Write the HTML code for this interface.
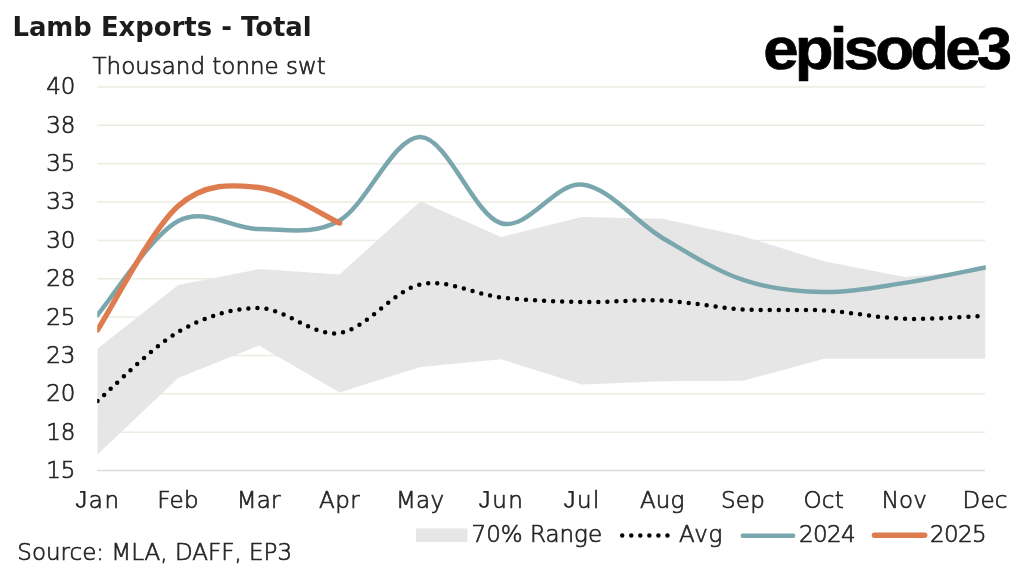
<!DOCTYPE html>
<html><head><meta charset="utf-8"><title>Lamb Exports - Total</title>
<style>
html,body{margin:0;padding:0;background:#fff;}
body{width:1024px;height:568px;overflow:hidden;}
svg{display:block;}
text{font-family:"DejaVu Sans","Liberation Sans",sans-serif;font-weight:200;fill:#262626;stroke:#262626;stroke-width:0.7px;font-size:23px;}
.J{font-family:"Liberation Sans",sans-serif;font-weight:normal;stroke:none;font-size:24px;}
.title{font-weight:bold;font-size:25.9px;fill:#1c1c1c;stroke:none;}
.logo{font-family:"Liberation Sans",sans-serif;font-weight:bold;font-size:60px;fill:#000;letter-spacing:-3.6px;stroke:#000;stroke-width:0.7px;}
</style></head><body>
<svg width="1024" height="568" viewBox="0 0 1024 568">
<rect width="1024" height="568" fill="#fff"/>
<g>
<line x1="97.2" x2="985" y1="87.00" y2="87.00" stroke="#ecece2" stroke-width="1.5"/>
<line x1="97.2" x2="985" y1="125.35" y2="125.35" stroke="#ecece2" stroke-width="1.5"/>
<line x1="97.2" x2="985" y1="163.70" y2="163.70" stroke="#ecece2" stroke-width="1.5"/>
<line x1="97.2" x2="985" y1="202.05" y2="202.05" stroke="#ecece2" stroke-width="1.5"/>
<line x1="97.2" x2="985" y1="240.40" y2="240.40" stroke="#ecece2" stroke-width="1.5"/>
<line x1="97.2" x2="985" y1="278.75" y2="278.75" stroke="#ecece2" stroke-width="1.5"/>
<line x1="97.2" x2="985" y1="317.10" y2="317.10" stroke="#ecece2" stroke-width="1.5"/>
<line x1="97.2" x2="985" y1="355.45" y2="355.45" stroke="#ecece2" stroke-width="1.5"/>
<line x1="97.2" x2="985" y1="393.80" y2="393.80" stroke="#ecece2" stroke-width="1.5"/>
<line x1="97.2" x2="985" y1="432.15" y2="432.15" stroke="#ecece2" stroke-width="1.5"/>
<line x1="97.2" x2="985" y1="470.50" y2="470.50" stroke="#dbdbdb" stroke-width="1.5"/>
</g>
<clipPath id="pc"><rect x="97.2" y="80" width="888.6" height="395"/></clipPath>
<g clip-path="url(#pc)">
<path d="M97.50 348.70 L178.21 285.04 L258.92 269.09 L339.63 274.45 L420.34 201.28 L501.05 237.03 L581.75 216.93 L662.46 218.77 L743.17 236.26 L823.88 261.26 L904.59 277.06 L985.30 270.01 L985.30 358.82 L904.59 358.82 L823.88 358.82 L743.17 380.76 L662.46 381.22 L581.75 384.44 L501.05 359.29 L420.34 366.95 L339.63 392.57 L258.92 345.48 L178.21 378.00 L97.50 454.55Z" fill="#e6e6e6"/>
<path d="M97.50 401.01 C110.95 389.50 151.31 347.47 178.21 331.98 C205.11 316.49 232.02 307.87 258.92 308.05 C285.82 308.23 312.72 336.99 339.63 333.05 C366.53 329.12 393.43 290.36 420.34 284.43 C447.24 278.49 474.14 294.52 501.05 297.46 C527.95 300.40 554.85 301.56 581.75 302.07 C608.66 302.58 635.56 299.31 662.46 300.53 C689.37 301.76 716.27 307.77 743.17 309.43 C770.08 311.09 796.98 308.94 823.88 310.50 C850.78 312.06 877.69 317.92 904.59 318.79 C931.49 319.66 971.85 316.23 985.30 315.72" fill="none" stroke="#000" stroke-width="4.5" stroke-linecap="round" stroke-dasharray="0 9.05"/>
<path d="M97.50 314.95 C110.95 299.31 151.31 235.39 178.21 221.07 C205.11 206.75 232.02 229.15 258.92 229.05 C285.82 228.95 312.72 235.80 339.63 220.46 C366.53 205.12 393.43 136.55 420.34 137.01 C447.24 137.47 474.14 215.29 501.05 223.22 C527.95 231.14 554.85 182.11 581.75 184.56 C608.66 187.02 635.56 222.04 662.46 237.95 C689.37 253.85 716.27 270.95 743.17 279.98 C770.08 289.00 796.98 291.61 823.88 292.10 C850.78 292.58 877.69 286.98 904.59 282.89 C931.49 278.80 971.85 270.11 985.30 267.55" fill="none" stroke="#7aa6ad" stroke-width="4.5" stroke-linecap="round"/>
<path d="M97.50 329.99 C110.95 309.33 151.31 229.79 178.21 206.04 C205.11 182.29 232.02 184.64 258.92 187.48 C285.82 190.31 326.18 217.13 339.63 223.07" fill="none" stroke="#de7c4f" stroke-width="5.4" stroke-linecap="round"/>
</g>
<text class="title" x="12.4" y="35.5">Lamb Exports - Total</text>
<text x="92.5" y="73.8">Thousand tonne swt</text>
<g>
<text x="75.5" y="94.40" text-anchor="end">40</text>
<text x="75.5" y="132.75" text-anchor="end">38</text>
<text x="75.5" y="171.10" text-anchor="end">35</text>
<text x="75.5" y="209.45" text-anchor="end">33</text>
<text x="75.5" y="247.80" text-anchor="end">30</text>
<text x="75.5" y="286.15" text-anchor="end">28</text>
<text x="75.5" y="324.50" text-anchor="end">25</text>
<text x="75.5" y="362.85" text-anchor="end">23</text>
<text x="75.5" y="401.20" text-anchor="end">20</text>
<text x="75.5" y="439.55" text-anchor="end">18</text>
<text x="75.5" y="477.90" text-anchor="end">15</text>
</g>
<g>
<text x="98.00" y="508.3" text-anchor="middle" style="letter-spacing:1.6px"><tspan class="J">J</tspan>an</text>
<text x="178.06" y="508.3" text-anchor="middle" style="letter-spacing:0.3px">Feb</text>
<text x="258.72" y="508.3" text-anchor="middle" style="letter-spacing:0.2px">Mar</text>
<text x="339.58" y="508.3" text-anchor="middle" style="letter-spacing:0.5px">Apr</text>
<text x="420.14" y="508.3" text-anchor="middle" style="letter-spacing:0.2px">May</text>
<text x="501.55" y="508.3" text-anchor="middle" style="letter-spacing:1.6px"><tspan class="J">J</tspan>un</text>
<text x="582.15" y="508.3" text-anchor="middle" style="letter-spacing:1.4px"><tspan class="J">J</tspan>ul</text>
<text x="662.26" y="508.3" text-anchor="middle" style="letter-spacing:0.2px">Aug</text>
<text x="742.97" y="508.3" text-anchor="middle" style="letter-spacing:0.2px">Sep</text>
<text x="823.68" y="508.3" text-anchor="middle" style="letter-spacing:0.2px">Oct</text>
<text x="904.39" y="508.3" text-anchor="middle" style="letter-spacing:0.2px">Nov</text>
<text x="985.10" y="508.3" text-anchor="middle" style="letter-spacing:0.2px">Dec</text>
</g>
<rect x="416" y="528.4" width="51.5" height="13.5" fill="#e6e6e6"/>
<text x="471.5" y="541.6">70% Range</text>
<path d="M622.2 535.6H667.5" fill="none" stroke="#000" stroke-width="4.5" stroke-linecap="round" stroke-dasharray="0 9.05"/>
<text x="679" y="541.6" style="letter-spacing:0.8px">Avg</text>
<path d="M742.8 535.8H793.1" fill="none" stroke="#7aa6ad" stroke-width="4.5" stroke-linecap="round"/>
<text x="799" y="541.7" style="letter-spacing:-0.6px">2024</text>
<path d="M874.4 535.2H924.7" fill="none" stroke="#de7c4f" stroke-width="5.4" stroke-linecap="round"/>
<text x="930" y="541.7" style="letter-spacing:-0.6px">2025</text>
<text x="17.3" y="559.9">Source: MLA, DAFF, EP3</text>
<text class="logo" transform="translate(763.2,69) scale(1.06,1)" x="0" y="0">episode3</text>
</svg>
</body></html>
